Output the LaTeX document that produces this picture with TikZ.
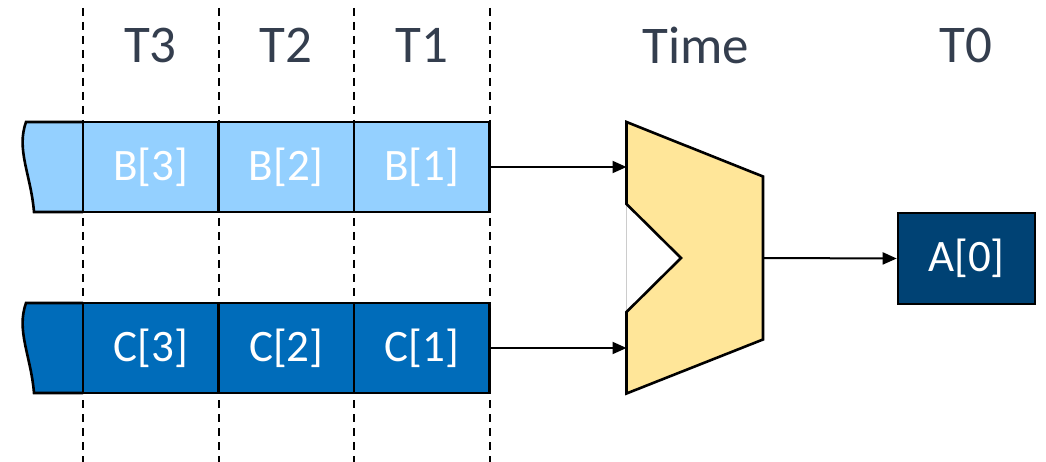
\documentclass[tikz,border=0pt]{standalone}
\usepackage{fontspec}
\setmainfont{Carlito}
\usetikzlibrary{arrows.meta}
\definecolor{lb}{RGB}{148,208,255}
\definecolor{db}{RGB}{0,108,186}
\definecolor{navy}{RGB}{0,66,116}
\definecolor{mux}{RGB}{255,230,153}
\definecolor{hdr}{RGB}{52,62,78}
\tikzset{
  cell/.style={draw=black, line width=2.6pt, minimum width=135.5pt, minimum height=90pt, inner sep=0pt, text=white, font=\fontsize{45}{50}\selectfont},
  hdrtext/.style={text=hdr, font=\fontsize{53}{60}\selectfont, inner sep=0pt},
  divider/.style={line width=2pt, dash pattern=on 8pt off 6pt},
  conn/.style={line width=2pt, -{Triangle[length=14pt,width=12pt]}},
}
\begin{document}
\begin{tikzpicture}[x=1pt,y=-1pt]
\useasboundingbox (0,0) rectangle (1046,462);
% dividers
\foreach \x/\n in {83/d0,218.5/d1,354/d2,490/d3}{
  \coordinate (\n t) at (\x,8);
  \coordinate (\n b) at (\x,462);
  \draw[divider] (\n t) -- (\n b);
}
% headers
\node[hdrtext] (h3) at (150.5,45) {T3};
\node[hdrtext] (h2) at (286,45) {T2};
\node[hdrtext] (h1) at (422,45) {T1};
\node[hdrtext] (htime) at (696,45) {Time};
\node[hdrtext] (h0) at (966,45) {T0};
% B row
\draw[fill=lb, line width=2.6pt] (83,122) -- (26,122) .. controls (16,150) and (31,175) .. (34,212) -- (83,212);
\node[cell, fill=lb] (B3) at (150.75,167) {B[3]};
\node[cell, fill=lb] (B2) at (286.25,167) {B[2]};
\node[cell, fill=lb] (B1) at (421.75,167) {B[1]};
% C row
\draw[fill=db, line width=2.6pt] (83,303) -- (26,303) .. controls (16,331) and (31,356) .. (34,393) -- (83,393);
\node[cell, fill=db] (C3) at (150.75,348) {C[3]};
\node[cell, fill=db] (C2) at (286.25,348) {C[2]};
\node[cell, fill=db] (C1) at (421.75,348) {C[1]};
% mux
\draw[black!20, line width=0.8pt] (626.5,204) -- (626.5,312);
\draw[fill=mux, line width=2.6pt, line join=miter] (626.5,122) -- (763,176.5) -- (763,339.5) -- (626.5,393.5) -- (626.5,312) -- (681,258) -- (626.5,204) -- cycle;
\coordinate (muxinB) at (626.5,167);
\coordinate (muxinC) at (626.5,348);
\coordinate (muxout) at (763,258);
% output
\node[draw=black, line width=2.6pt, fill=navy, minimum width=137pt, minimum height=91pt, inner sep=0pt, text=white, font=\fontsize{45}{50}\selectfont] (A0) at (966.5,258.5) {A[0]};
% connectors
\draw[conn] (B1.east) -- (muxinB);
\draw[conn] (C1.east) -- (muxinC);
\draw[conn] (muxout) -- (A0.west);
\end{tikzpicture}
\end{document}
